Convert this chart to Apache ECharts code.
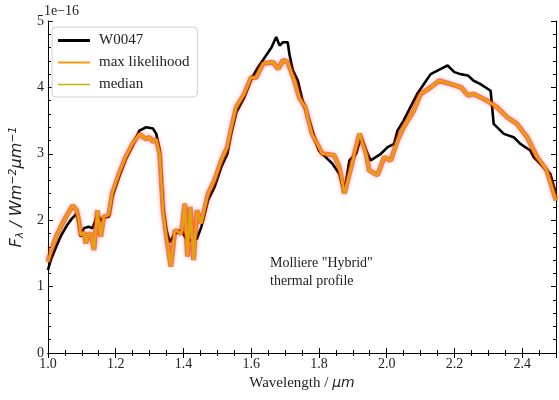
<!DOCTYPE html>
<html><head><meta charset="utf-8">
<script src="https://cdn.jsdelivr.net/npm/echarts@6/dist/echarts.min.js"></script>
<style>html,body{margin:0;padding:0;background:#fff}#c{width:559px;height:400px}</style>
</head><body><div id="c"></div><script>
// Observed spectrum W0047 (flux in units of 1e-16)
const obsWl = [1.000,1.010,1.026,1.040,1.056,1.070,1.085,1.092,1.097,1.106,1.120,1.132,1.146,1.156,1.170,1.180,1.190,1.210,1.230,1.250,1.270,1.290,1.310,1.320,1.330,1.340,1.350,1.360,1.375,1.394,1.410,1.430,1.440,1.453,1.473,1.492,1.512,1.530,1.540,1.556,1.580,1.600,1.620,1.640,1.660,1.674,1.684,1.694,1.708,1.713,1.723,1.738,1.752,1.772,1.790,1.800,1.820,1.840,1.860,1.875,1.890,1.910,1.924,1.940,1.953,1.968,1.983,2.003,2.022,2.032,2.050,2.070,2.090,2.110,2.130,2.160,2.180,2.200,2.218,2.240,2.257,2.277,2.307,2.316,2.346,2.375,2.395,2.424,2.434,2.463,2.483,2.500];
const obsFlux = [1.25,1.42,1.62,1.78,1.92,2.02,2.10,1.95,1.75,1.88,1.90,1.88,2.08,2.00,2.05,2.05,2.35,2.65,2.92,3.12,3.35,3.40,3.38,3.30,3.05,2.20,1.85,1.67,1.80,1.85,1.70,1.70,1.72,1.90,2.30,2.50,2.80,3.00,3.28,3.62,3.85,4.12,4.30,4.45,4.60,4.76,4.63,4.68,4.68,4.50,4.26,4.10,3.80,3.50,3.20,3.05,2.95,2.85,2.70,2.42,2.90,3.00,3.25,3.05,2.90,2.95,3.00,3.10,3.15,3.35,3.50,3.70,3.90,4.05,4.20,4.28,4.33,4.23,4.20,4.18,4.10,4.05,3.95,3.45,3.30,3.25,3.15,3.05,2.95,2.80,2.70,2.40];
// Model spectra
const modelWl = [1.000,1.010,1.026,1.040,1.056,1.073,1.085,1.092,1.097,1.106,1.112,1.120,1.128,1.136,1.146,1.156,1.165,1.180,1.190,1.210,1.230,1.250,1.270,1.290,1.300,1.310,1.320,1.330,1.340,1.350,1.363,1.375,1.394,1.404,1.412,1.420,1.430,1.440,1.453,1.473,1.492,1.512,1.530,1.540,1.556,1.580,1.600,1.615,1.635,1.664,1.680,1.694,1.708,1.728,1.742,1.760,1.780,1.810,1.845,1.860,1.875,1.900,1.920,1.940,1.948,1.973,1.993,2.012,2.032,2.050,2.080,2.100,2.130,2.155,2.190,2.220,2.240,2.257,2.297,2.326,2.356,2.385,2.415,2.444,2.473,2.500];
const maxLikelihood = [1.37,1.55,1.77,1.92,2.07,2.22,2.15,1.97,1.77,1.82,1.65,1.80,1.78,1.55,2.15,1.75,2.05,2.08,2.40,2.70,2.95,3.15,3.30,3.22,3.25,3.18,3.22,3.00,2.15,1.75,1.30,1.85,1.80,2.25,1.45,2.20,1.40,2.15,1.95,2.40,2.60,2.90,3.10,3.35,3.70,3.90,4.15,4.15,4.36,4.38,4.28,4.41,4.38,4.10,3.85,3.70,3.30,3.00,2.98,2.80,2.40,2.90,3.30,3.00,2.75,2.68,2.95,2.90,3.20,3.40,3.65,3.90,4.00,4.10,4.05,4.00,3.88,3.90,3.80,3.70,3.55,3.45,3.25,2.95,2.75,2.30];
const medianFlux = [1.37,1.55,1.77,1.92,2.07,2.22,2.15,1.97,1.77,1.82,1.65,1.80,1.78,1.55,2.15,1.75,2.05,2.08,2.40,2.70,2.95,3.15,3.30,3.22,3.25,3.18,3.22,3.00,2.15,1.75,1.30,1.85,1.80,2.25,1.45,2.20,1.40,2.15,1.95,2.40,2.60,2.90,3.10,3.35,3.70,3.90,4.15,4.15,4.36,4.38,4.28,4.41,4.38,4.10,3.85,3.70,3.30,3.00,2.98,2.80,2.40,2.90,3.30,3.00,2.75,2.68,2.95,2.90,3.20,3.40,3.65,3.90,4.00,4.10,4.05,4.00,3.88,3.90,3.80,3.70,3.55,3.45,3.25,2.95,2.75,2.30];
const seriesNames = ['W0047','max likelihood','median'];
const annotation = 'Molliere "Hybrid"\nthermal profile';
const offsetText = '1e\u221216';

const pair = (xs, ys) => xs.map((x, i) => [x, ys[i]]);
const serif = '"Liberation Serif", "DejaVu Serif", serif';
const sans = '"DejaVu Sans", sans-serif';
// legend line icons of different thickness (tiny corner marks keep the box 32x10)
const lineIcon = t => 'path://M0,0H32V0.01H0Z M0,' + (5 - t / 2) + 'H32V' + (5 + t / 2) + 'H0Z M0,9.99H32V10H0Z';
const axisLine = {show: true, lineStyle: {color: '#000', width: 1}};
const axisTick = {show: true, inside: true, length: 5, lineStyle: {color: '#000'}};
const minorX = {show: true, splitNumber: 4, length: 3, lineStyle: {color: '#000'}};
const minorY = {show: true, splitNumber: 5, length: 3, lineStyle: {color: '#000'}};
const chart = echarts.init(document.getElementById('c'), null, {renderer: 'canvas'});
chart.setOption({
  animation: false,
  backgroundColor: '#fff',
  grid: {left: 46, right: 3, top: 21, bottom: 47, containLabel: false},
  xAxis: [
    {type: 'value', min: 1.0, max: 2.5, interval: 0.2, position: 'bottom',
      axisLine, axisTick, minorTick: minorX, splitLine: {show: false},
      axisLabel: {color: '#222', fontFamily: serif, fontSize: 14, margin: 4, showMaxLabel: false,
        formatter: v => v.toFixed(1)},
      name: '{a|Wavelength / }{b|μm}', nameLocation: 'middle', nameGap: 22,
      nameTextStyle: {rich: {
        a: {fontFamily: serif, fontSize: 15, color: '#222'},
        b: {fontFamily: sans, fontStyle: 'italic', fontSize: 14, color: '#222'}
      }}
    },
    {type: 'value', min: 1.0, max: 2.5, interval: 0.2, position: 'top',
      axisLine, axisTick, minorTick: minorX, axisLabel: {show: false}, splitLine: {show: false}}
  ],
  yAxis: [
    {type: 'value', min: 0, max: 5, interval: 1, position: 'left',
      axisLine, axisTick, minorTick: minorY, splitLine: {show: false},
      axisLabel: {color: '#222', fontFamily: serif, fontSize: 14, margin: 4},
      name: '{i|F}{sub|λ}{n| / Wm}{sup|−2}{n|μm}{sup|−1}', nameLocation: 'middle', nameGap: 21, nameRotate: 90,
      nameTextStyle: {rich: {
        i: {fontFamily: sans, fontStyle: 'italic', fontSize: 16, color: '#222'},
        n: {fontFamily: sans, fontStyle: 'italic', fontSize: 16, color: '#222'},
        sub: {fontFamily: sans, fontStyle: 'italic', fontSize: 11, color: '#222', verticalAlign: 'bottom', padding: [7, 0, 0, 0]},
        sup: {fontFamily: sans, fontStyle: 'italic', fontSize: 11, color: '#222', verticalAlign: 'top', padding: [0, 0, 7, 0]}
      }}
    },
    {type: 'value', min: 0, max: 5, interval: 1, position: 'right',
      axisLine, axisTick, minorTick: minorY, splitLine: {show: false}, axisLabel: {show: false}}
  ],
  legend: {
    data: [
      {name: seriesNames[0], icon: lineIcon(3)},
      {name: seriesNames[1], icon: lineIcon(2)},
      {name: seriesNames[2], icon: lineIcon(1.3)}
    ],
    left: 52, top: 27, orient: 'vertical',
    itemWidth: 32, itemHeight: 10, itemGap: 7,
    backgroundColor: 'rgba(255,255,255,0.85)', borderColor: '#d0d0d0', borderWidth: 1, borderRadius: 4,
    padding: [6, 8, 5, 6],
    textStyle: {fontFamily: serif, fontSize: 15, color: '#222', padding: [0, 0, 0, 4]}
  },
  graphic: [
    {type: 'text', left: 44, top: 4, style: {text: offsetText, font: '14px ' + serif, fill: '#222'}},
    {type: 'text', left: 270, top: 254, style: {text: annotation, font: '14px ' + serif, fill: '#222', lineHeight: 18}}
  ],
  series: [
    {name: seriesNames[0], type: 'line', data: pair(obsWl, obsFlux), showSymbol: false, symbol: 'none',
      lineStyle: {color: '#000', width: 2.6}, itemStyle: {color: '#000'}, z: 2},
    {name: 'band', type: 'line', data: pair(modelWl, maxLikelihood), showSymbol: false, symbol: 'none', silent: true,
      lineStyle: {color: 'rgba(255,30,20,0.6)', width: 5, shadowColor: 'rgba(255,40,30,0.5)', shadowBlur: 4}, z: 3},
    {name: seriesNames[1], type: 'line', data: pair(modelWl, maxLikelihood), showSymbol: false, symbol: 'none',
      lineStyle: {color: '#f59a10', width: 2.6}, itemStyle: {color: '#f59a10'}, z: 4},
    {name: seriesNames[2], type: 'line', data: pair(modelWl, medianFlux), showSymbol: false, symbol: 'none',
      lineStyle: {color: '#c4b400', width: 1}, itemStyle: {color: '#c4b400'}, z: 5}
  ]
});
</script></body></html>
